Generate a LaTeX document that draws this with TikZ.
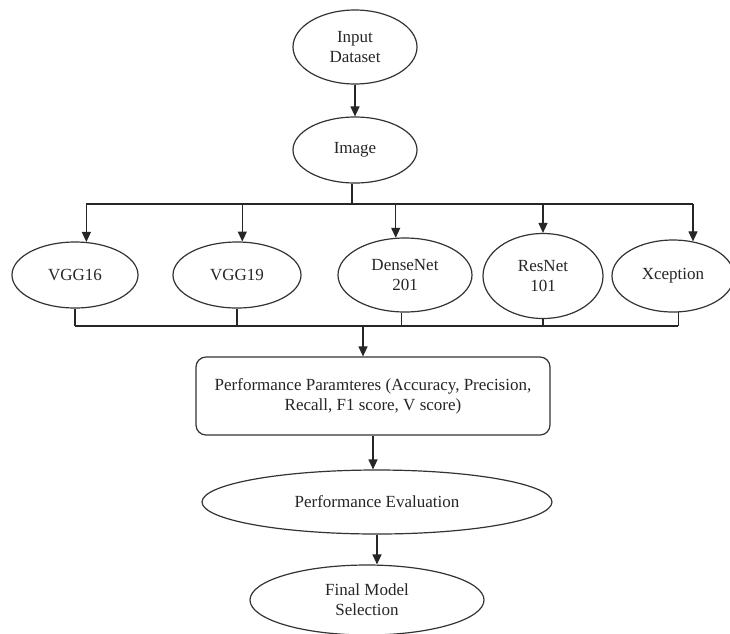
\documentclass[tikz,border=0pt]{standalone}
\usepackage{fontspec}
\setmainfont{Liberation Serif}
\usetikzlibrary{shapes.geometric,arrows.meta}
\begin{document}
\begin{tikzpicture}[x=1pt,y=-1pt,
  line width=1.2pt, draw=black!85,
  ov/.style={ellipse,draw=black!80,line width=1.2pt,inner sep=0pt,align=center,
             font=\fontsize{17}{20}\selectfont,text=black!85},
  boxnode/.style={rectangle,rounded corners=10pt,draw=black!80,line width=1.2pt,inner sep=0pt,
             align=center,font=\fontsize{17}{20}\selectfont,text=black!85},
  arr/.style={draw=black!85,-{Triangle[length=10pt,width=9pt]}},
  ln/.style={draw=black!85}]
\fill[white] (0,0) rectangle (730,633);
\useasboundingbox (0,0) rectangle (730,633);
\begin{scope}
\clip (0,0) rectangle (730,633);
% nodes
\node[ov,minimum width=124pt,minimum height=74pt] (in) at (355,47) {Input\\Dataset};
\node[ov,minimum width=124pt,minimum height=66pt] (img) at (355,150) {Image};
\node[ov,minimum width=126pt,minimum height=66pt] (v16) at (75,275) {VGG16};
\node[ov,minimum width=128pt,minimum height=66pt] (v19) at (237,275) {VGG19};
\node[ov,minimum width=134pt,minimum height=74pt] (dn) at (405,275) {DenseNet\\201};
\node[ov,minimum width=120pt,minimum height=85pt] (rn) at (543,276) {ResNet\\101};
\node[ov,minimum width=122pt,minimum height=72pt] (xc) at (673,276) {Xception};
\node[boxnode,minimum width=354pt,minimum height=78pt] (perf) at (373,396)
  {Performance Paramteres (Accuracy, Precision,\\Recall, F1 score, V score)};
\node[ov,minimum width=350pt,minimum height=64pt] (ev) at (377,502) {Performance Evaluation};
\node[ov,minimum width=234pt,minimum height=70pt] (fin) at (367,600) {Final Model\\Selection};
% buses
\coordinate (bt) at (0,204);
\coordinate (bb) at (0,326);
\coordinate (bd) at (363,326);
% top
\draw[arr] (in.south) -- (img.north);
\draw[ln] (img.265) -- (img.265 |- bt);
\draw[ln] (v16.71 |- bt) -- (xc.60 |- bt);
\draw[arr] (v16.71 |- bt) -- (v16.71);
\draw[arr] (v19.81 |- bt) -- (v19.81);
\draw[arr] (dn.104 |- bt) -- (dn.104);
\draw[arr] (rn.north |- bt) -- (rn.north);
\draw[arr] (xc.60 |- bt) -- (xc.60);
% bottom
\draw[ln] (v16.south) -- (v16.south |- bb);
\draw[ln] (v19.south) -- (v19.south |- bb);
\draw[ln] (dn.265) -- (dn.265 |- bb);
\draw[ln] (rn.south) -- (rn.south |- bb);
\draw[ln] (xc.278) -- (xc.278 |- bb);
\draw[ln] (v16.south |- bb) -- (xc.278 |- bb);
\draw[arr] (bd) -- (bd |- perf.north);
\draw[arr] (perf.south) -- (perf.south |- ev.north);
\draw[arr] (ev.south) -- (ev.south |- fin.north);
\end{scope}
\end{tikzpicture}
\end{document}
